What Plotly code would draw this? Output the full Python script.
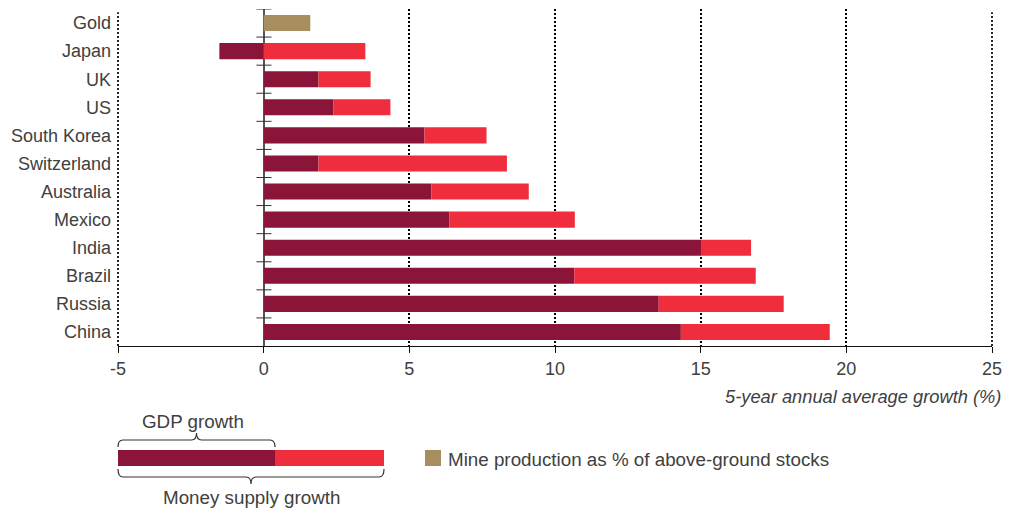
import plotly.graph_objects as go

categories = ["Gold", "Japan", "UK", "US", "South Korea", "Switzerland", "Australia",
              "Mexico", "India", "Brazil", "Russia", "China"]
gdp_growth = [None, -1.52, 1.88, 2.40, 5.52, 1.88, 5.76, 6.38, 15.01, 10.66, 13.56, 14.32]
money_supply_growth = [None, 3.49, 3.67, 4.35, 7.65, 8.35, 9.10, 10.68, 16.73, 16.89, 17.85, 19.43]
mine_production = [1.60, None, None, None, None, None, None, None, None, None, None, None]
x_ticks = [-5, 0, 5, 10, 15, 20, 25]

DARK = "#8A1538"
RED = "#EF2D3C"
GOLD = "#A68E5E"
TXT = "#404040"
FONT = "Liberation Sans"
FS = 18
LFS = 18.8
DOT = "2px,2px"
GW = 1.7

# red segment = money supply growth beyond positive GDP growth
excess = []
for g, m in zip(gdp_growth, money_supply_growth):
    if g is None or m is None:
        excess.append(None)
    else:
        excess.append(m - max(g, 0))

W, H = 1013, 511
L, R, T, B = 118, 21, 9, 165
pw, ph = W - L - R, H - T - B


def px(xp):
    return (xp - L) / pw


def py(yp):
    return (H - B - yp) / ph


fig = go.Figure()
fig.add_trace(go.Bar(y=categories, x=gdp_growth, orientation="h", marker_color=DARK,
                     marker_line_width=0, width=0.57, name="GDP growth"))
fig.add_trace(go.Bar(y=categories, x=excess, orientation="h", marker_color=RED,
                     marker_line_width=0, width=0.57, name="Money supply growth"))
fig.add_trace(go.Bar(y=categories, x=mine_production, orientation="h", marker_color=GOLD,
                     marker_line_width=0, width=0.57, name="Mine production"))

shapes = []
# dotted gridlines at the two range edges (plotly omits them); paper x 0/1 = axis ends
for xe in (0, 1):
    shapes.append(dict(type="line", xref="paper", yref="paper", x0=xe, x1=xe, y0=0, y1=0.99,
                       line=dict(color="#000", width=GW, dash=DOT), layer="below"))
# small tick marks across the zero line at category boundaries
for i in range(len(categories)):
    shapes.append(dict(type="line", xref="x", yref="y", x0=-0.25, x1=0.27,
                       y0=i - 0.5, y1=i - 0.5, line=dict(color="#333", width=1)))

# legend bar
lx0 = px(118); lmid = px(275); lx1 = px(384)
ly0 = py(466); ly1 = py(450)
shapes.append(dict(type="rect", xref="paper", yref="paper", x0=lx0, x1=lmid, y0=ly0, y1=ly1,
                   fillcolor=DARK, line_width=0, layer="above"))
shapes.append(dict(type="rect", xref="paper", yref="paper", x0=lmid, x1=lx1, y0=ly0, y1=ly1,
                   fillcolor=RED, line_width=0, layer="above"))
# gold square
shapes.append(dict(type="rect", xref="paper", yref="paper", x0=px(425), x1=px(441),
                   y0=py(466), y1=py(450), fillcolor=GOLD, line_width=0))


def brace(x0, x1, yb, yt, ytip, r=5):
    xc = (x0 + x1) / 2
    pts = [
        f"M {px(x0)},{py(yb)}",
        f"Q {px(x0)},{py(yt)} {px(x0 + r)},{py(yt)}",
        f"L {px(xc - r)},{py(yt)}",
        f"Q {px(xc)},{py(yt)} {px(xc)},{py(ytip)}",
        f"Q {px(xc)},{py(yt)} {px(xc + r)},{py(yt)}",
        f"L {px(x1 - r)},{py(yt)}",
        f"Q {px(x1)},{py(yt)} {px(x1)},{py(yb)}",
    ]
    return dict(type="path", xref="paper", yref="paper", path=" ".join(pts),
                line=dict(color="#333", width=1.2))


shapes.append(brace(118, 275, 447, 440, 433))
shapes.append(brace(118, 384, 469, 477, 484))

annotations = [
    dict(text="GDP growth", xref="paper", yref="paper", x=px(193), y=py(421),
         showarrow=False, xanchor="center", yanchor="middle", font=dict(size=LFS, color=TXT, family=FONT)),
    dict(text="Money supply growth", xref="paper", yref="paper", x=px(251), y=py(497),
         showarrow=False, xanchor="center", yanchor="middle", font=dict(size=LFS, color=TXT, family=FONT)),
    dict(text="Mine production as % of above-ground stocks", xref="paper", yref="paper",
         x=px(446), y=py(459), showarrow=False, xanchor="left", yanchor="middle",
         font=dict(size=LFS, color=TXT, family=FONT)),
    dict(text="<i>5-year annual average growth (%)</i>", xref="paper", yref="paper",
         x=px(1003), y=py(396), showarrow=False, xanchor="right", yanchor="middle",
         font=dict(size=18.3, color=TXT, family=FONT)),
]

fig.update_layout(
    width=W, height=H,
    margin=dict(l=L, r=R, t=T, b=B),
    barmode="relative",
    showlegend=False,
    plot_bgcolor="white", paper_bgcolor="white",
    shapes=shapes, annotations=annotations,
    font=dict(family=FONT, size=FS, color=TXT),
    xaxis=dict(range=[-5, 25], tickvals=x_ticks, ticktext=[str(v) for v in x_ticks],
               showgrid=True, gridcolor="#000", gridwidth=GW, griddash=DOT,
               zeroline=True, zerolinecolor="#555", zerolinewidth=1.6,
               showline=True, linecolor="#111", linewidth=1.2,
               ticks="outside", ticklen=6, tickcolor="#111", tickwidth=1.2,
               tickfont=dict(size=FS, color=TXT, family=FONT), fixedrange=True),
    yaxis=dict(categoryorder="array", categoryarray=categories, range=[11.5, -0.5],
               showgrid=False, zeroline=False, showline=False, ticks="",
               tickfont=dict(size=FS, color=TXT, family=FONT), ticklabelstandoff=6,
               fixedrange=True),
)

fig.write_html("out.html", config={"displayModeBar": False},
               post_script="document.body.style.margin='0';document.body.style.overflow='hidden';")
